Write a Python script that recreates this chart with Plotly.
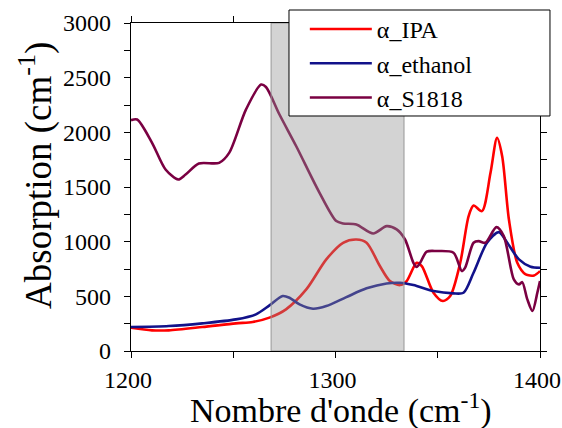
import plotly.graph_objects as go

# Absorption spectra (cm-1) versus wavenumber (cm-1)
ipa_x = [1200, 1210.3, 1218.5, 1234.9, 1251.3, 1259.5, 1267.7, 1275.8, 1285.7, 1295.5,
         1303.7, 1310.2, 1315.2, 1321.7, 1326.6, 1331.5, 1334.8, 1339.7, 1342.2, 1347.9,
         1352.5, 1356.1, 1361.0, 1365.1, 1367.5, 1371.6, 1375.8, 1379.0, 1381.5, 1384.8,
         1388.9, 1393.0, 1397.1, 1400]
ipa_y = [213, 189, 189, 219, 253, 265, 305, 381, 563, 838,
         990, 1020, 990, 777, 640, 603, 640, 807, 777, 533,
         457, 503, 807, 1234, 1331, 1279, 1630, 1949, 1782, 1203,
         807, 701, 691, 731]

eth_x = [1200, 1218.5, 1234.9, 1251.3, 1261.1, 1267.7, 1274.2, 1277.5, 1282.4, 1289.0,
         1295.5, 1305.3, 1315.2, 1325.0, 1331.5, 1338.1, 1347.9, 1357.7, 1362.6, 1367.5,
         1374.1, 1379.9, 1384.0, 1389.7, 1395.4, 1400]
eth_y = [219, 228, 253, 289, 335, 417, 503, 487, 426, 387,
         411, 493, 573, 618, 624, 603, 548, 527, 533, 716,
         990, 1087, 990, 838, 771, 762]

s1818_x = [1200, 1203, 1210.3, 1216.9, 1223.1, 1226.7, 1233.2, 1243.1, 1248.0, 1256.2,
           1263.6, 1266.0, 1272.6, 1280.8, 1292.2, 1300.4, 1303.7, 1310.2, 1318.4, 1325.0,
           1329.9, 1334.0, 1338.1, 1339.7, 1341.4, 1344.6, 1349.5, 1357.7, 1361.8, 1363.4,
           1367.5, 1370.0, 1373.3, 1378.7, 1382.3, 1387.2, 1389.7, 1391.3, 1393.8, 1396.3,
           1398.7, 1400]
s1818_y = [2111, 2117, 1904, 1660, 1569, 1614, 1715, 1721, 1812, 2208,
           2437, 2415, 2163, 1873, 1447, 1188, 1167, 1157, 1075, 1142,
           1112, 1020, 807, 768, 807, 908, 914, 899, 731, 762,
           990, 1005, 990, 1133, 1051, 655, 609, 630, 472, 366,
           533, 640]

band_range = [1268.5, 1333.5]
x_ticks = [1200, 1300, 1400]
y_ticks = [0, 500, 1000, 1500, 2000, 2500, 3000]
x_title = "Nombre d'onde (cm<sup>-1</sup>)"
y_title = "Absorption (cm<sup>-1</sup>)"

serif = "Liberation Serif"

fig = go.Figure()
series = [
    ("α_IPA", ipa_x, ipa_y, "#ff0000"),
    ("α_ethanol", eth_x, eth_y, "#12128a"),
    ("α_S1818", s1818_x, s1818_y, "#7a0042"),
]
for name, xs, ys, color in series:
    fig.add_trace(go.Scatter(
        x=xs, y=ys, name=name, mode="lines",
        line=dict(color=color, width=2.6, shape="spline", smoothing=0.8),
    ))

# translucent band drawn over the curves
fig.add_shape(
    type="rect", xref="x", yref="y",
    x0=band_range[0], x1=band_range[1], y0=0, y1=3000,
    fillcolor="rgba(145,145,145,0.4)",
    line=dict(color="rgba(150,150,150,1)", width=1),
    layer="above",
)

# white framed box behind the legend entries
fig.add_shape(
    type="rect", xref="paper", yref="paper",
    x0=0.3863, x1=1.0244, y0=0.7165, y1=1.0396,
    fillcolor="white", line=dict(color="black", width=1),
    layer="above",
)

# axis titles
fig.add_annotation(
    text=x_title, xref="paper", yref="paper", x=0.513, y=-0.174,
    xanchor="center", yanchor="middle", showarrow=False,
    font=dict(family=serif, size=34, color="black"),
)
fig.add_annotation(
    text=y_title, xref="paper", yref="paper", x=-0.232, y=0.534,
    xanchor="center", yanchor="middle", showarrow=False, textangle=-90,
    font=dict(family=serif, size=37, color="black"),
)

axis_common = dict(
    showline=True, linecolor="black", linewidth=1.3,
    mirror="ticks", ticks="outside", ticklen=6, tickwidth=1.2,
    tickcolor="black", showgrid=False, zeroline=False,
    tickfont=dict(family=serif, size=24, color="black"),
    ticklabeloverflow="allow", automargin=False,
)

fig.update_xaxes(
    range=[1200, 1400], tickvals=x_ticks,
    minor=dict(tickvals=[1250, 1350], ticks="outside", ticklen=6, tickwidth=1.2,
               tickcolor="black"),
    ticklabelstandoff=1, ticklabelshift=-3,
    **axis_common,
)
fig.update_yaxes(
    range=[0, 3000], tickvals=y_ticks,
    minor=dict(tickvals=[250, 750, 1250, 1750, 2250, 2750], ticks="outside", ticklen=6,
               tickwidth=1.2, tickcolor="black"),
    ticklabelstandoff=8,
    **axis_common,
)

fig.update_layout(
    width=562, height=428,
    margin=dict(l=131, r=22, t=23, b=77, autoexpand=False),
    paper_bgcolor="white", plot_bgcolor="white",
    font=dict(family=serif, color="black"),
    showlegend=True,
    legend=dict(
        x=0.425, y=1.049, xanchor="left", yanchor="top",
        bgcolor="rgba(0,0,0,0)", borderwidth=0,
        font=dict(family=serif, size=24, color="black"),
        itemwidth=62, tracegroupgap=0,
    ),
)

fig.write_html("out.html")
